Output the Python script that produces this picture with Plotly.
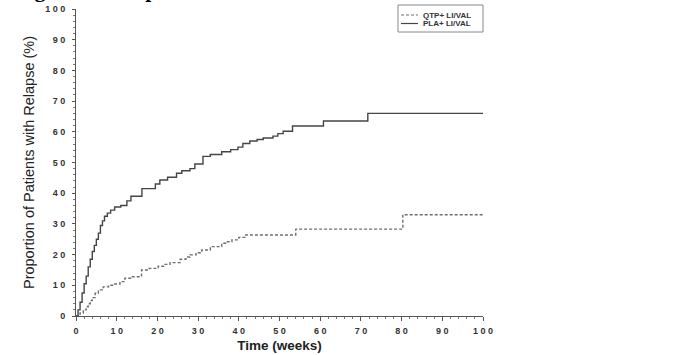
import plotly.graph_objects as go

# ---- data ----
pla_weeks = [0, 0.5, 1, 1.5, 2, 2.5, 3, 3.5, 4, 4.5, 5, 5.5, 6, 6.5, 7, 7.7, 8.5, 9.5,
             11, 12.5, 13.5, 16.2, 19.5, 20.6, 22.5, 24.7, 26, 28, 29.2, 31.2, 33,
             35.8, 38, 39.8, 41, 42.7, 44.5, 46, 48.4, 49.6, 50.9, 53.2, 60.8, 71.7, 100]
pla_pct = [0, 2, 4.5, 7.5, 10.5, 13, 16, 18.5, 21, 23, 25, 27, 29.5, 31, 32.5, 33.5, 34.5, 35.5,
           36, 37.5, 39, 41.5, 43, 44.3, 45.2, 46.5, 47.3, 48, 49.5, 52, 52.6,
           53.5, 54.2, 55, 56.2, 57, 57.5, 58, 58.6, 59.4, 60.2, 61.9, 63.5, 66, 66]

qtp_weeks = [0, 1, 1.8, 2.5, 3, 3.5, 4, 4.7, 5.5, 6.7, 8, 9.2, 10.8, 12, 13.6, 16.1, 18,
             20.2, 21.5, 23.1, 25.6, 27, 28, 29.5, 30.9, 33, 35.8, 37, 38.3, 40, 41.5,
             54, 80.3, 100]
qtp_pct = [0, 1, 2, 3, 4, 5, 6, 7.4, 8.5, 9.5, 10, 10.4, 11.2, 12.3, 12.8, 15, 15.5,
           16.2, 16.8, 17.4, 18.5, 19.2, 19.9, 20.6, 21.5, 22.6, 23.7, 24.2, 24.8, 25.6, 26.4,
           28.3, 33, 33]

series_names = ["QTP+ LI/VAL", "PLA+ LI/VAL"]
tick_values = [0, 10, 20, 30, 40, 50, 60, 70, 80, 90, 100]
tick_labels = ["0", "1 0", "2 0", "3 0", "4 0", "5 0", "6 0", "7 0", "8 0", "9 0", "1 0 0"]

# ---- layout geometry (pixels) ----
W, H = 691, 355
L, R, T, B = 76, 208, 9, 39
PW, PH = W - L - R, H - T - B


def px(X):
    return (X - L) / PW


def py(Y):
    return (H - B - Y) / PH


fig = go.Figure()
fig.add_trace(go.Scatter(x=qtp_weeks, y=qtp_pct, mode="lines", name=series_names[0],
                         line=dict(shape="hv", color="#6e6e6e", width=1.4, dash="3px,2px"),
                         showlegend=False))
fig.add_trace(go.Scatter(x=pla_weeks, y=pla_pct, mode="lines", name=series_names[1],
                         line=dict(shape="hv", color="#454545", width=1.4),
                         showlegend=False))

tickfont = dict(family="Liberation Sans", size=9, color="#333", weight="bold")
axis_common = dict(showgrid=False, zeroline=False, showline=True, linecolor="#555",
                   linewidth=1, ticks="outside", tickcolor="#555", tickwidth=1,
                   tickvals=tick_values, ticktext=tick_labels, tickfont=tickfont,
                   range=[0, 100], fixedrange=True)

fig.update_layout(
    width=W, height=H,
    margin=dict(l=L, r=R, t=T, b=B, autoexpand=False),
    paper_bgcolor="white", plot_bgcolor="white",
    xaxis=dict(**axis_common, ticklen=4, ticklabelstandoff=2,
               minor=dict(dtick=2, ticklen=2, tickcolor="#777", ticks="outside"),
               title=dict(text="Time (weeks)", standoff=5,
                          font=dict(family="Liberation Sans", size=13.5, color="#222", weight="bold"))),
    yaxis=dict(**axis_common, ticklen=3, ticklabelstandoff=5,
               minor=dict(dtick=2, ticklen=2, tickcolor="#777", ticks="outside"),
               title=dict(text="Proportion of Patients with Relapse (%)", standoff=7,
                          font=dict(family="Liberation Sans", size=14.5, color="#222"))),
)

# legend box (drawn by hand to match the small boxed legend)
fig.add_shape(type="rect", xref="paper", yref="paper",
              x0=px(398), x1=px(483), y0=py(32), y1=py(5),
              line=dict(color="#888", width=1), fillcolor="white")
fig.add_shape(type="line", xref="paper", yref="paper",
              x0=px(401), x1=px(418), y0=py(15), y1=py(15),
              line=dict(color="#6e6e6e", width=1.2, dash="3px,2px"))
fig.add_shape(type="line", xref="paper", yref="paper",
              x0=px(401), x1=px(418), y0=py(23.5), y1=py(23.5),
              line=dict(color="#454545", width=1.2))
for name, Y in zip(series_names, [15, 23.5]):
    fig.add_annotation(xref="paper", yref="paper", x=px(421), y=py(Y),
                       xanchor="left", yanchor="middle", showarrow=False, text=name,
                       font=dict(family="Liberation Sans", size=8, color="#333", weight="bold"))

# partially visible caption cut off at the top of the image
fig.add_annotation(xref="paper", yref="paper", x=px(13), y=1, xanchor="left", yanchor="bottom",
                   showarrow=False, text="Figure 13: Kaplan Meier Curves", yshift=5,
                   font=dict(family="Liberation Serif", size=22, color="black", weight="bold"))

fig.write_html("out.html")
